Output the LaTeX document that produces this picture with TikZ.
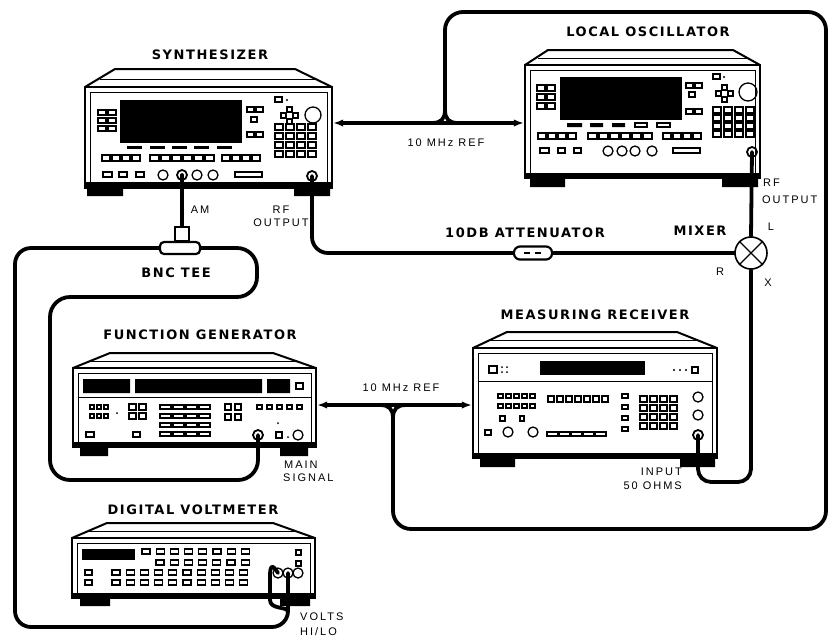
\documentclass[tikz,border=0pt]{standalone}
\usepackage{fontspec}
\usetikzlibrary{arrows.meta,backgrounds}
\newfontfamily\titlefam{DejaVu Sans}[LetterSpace=12]
\newfontfamily\lblfam{Liberation Sans}[LetterSpace=18]
\newcommand\titlefont{\titlefam\bfseries\fontsize{13}{14}\selectfont}
\newcommand\lblfont{\lblfam\fontsize{11}{12}\selectfont}
\newcommand\btns[8]{%
  \foreach \ii in {1,...,#3}{\foreach \jj in {1,...,#4}{%
    \draw[btn] ({#1+(\ii-1)*(#5)},{#2+(\jj-1)*(#6)}) rectangle ++(#7,#8);}}}
\tikzset{
  cable/.style={line width=3.8pt, line cap=round, line join=round, rounded corners=16pt},
  reflink/.style={line width=3.6pt, {Latex[length=10pt,width=7.5pt]}-{Latex[length=10pt,width=7.5pt]}},
  lid/.style={line width=2pt, line join=round},
  panelbox/.style={draw, line width=2.4pt, inner sep=0pt},
  innerln/.style={line width=1pt},
  btn/.style={draw, line width=1.1pt},
  knobc/.style={line width=1.3pt},
  jack/.style={circle, draw, line width=1.8pt, minimum size=10pt, inner sep=0pt},
  title/.style={font=\titlefont, inner sep=0pt},
  lbl/.style={font=\lblfont, inner sep=0pt},
  mixer/.style={circle, draw, line width=1.6pt, fill=white, minimum size=32pt, inner sep=0pt},
  attbox/.style={draw, line width=2.2pt, fill=white, rounded corners=6pt, minimum width=38pt, minimum height=13pt, inner sep=0pt},
  teebox/.style={draw, line width=2.2pt, fill=white, inner sep=0pt}
}
\begin{document}
\begin{tikzpicture}[x=1pt,y=-1pt]
\useasboundingbox (0,0) rectangle (832,641);

% ---------- SYNTHESIZER ----------
\draw[lid] (85,87) -- (115,69) -- (295,69) -- (332,87);
\draw[innerln] (100,79) -- (317,79);
\node[panelbox, minimum width=247pt, minimum height=101pt] (synth) at (208.5,137.5) {};
\draw[innerln] (90,92) rectangle (327,182);
\fill (86,182) rectangle (331,188);
\fill (87,188) rectangle (123,196) (294,188) rectangle (330,196);
\fill (120,100) rectangle (242,143);
\btns{98}{110}{2}{3}{10}{8}{8}{5}
\draw[btn] (247,107) rectangle ++(7,5) (256,107) rectangle ++(7,5) (251,117) rectangle ++(6,5) (247,132) rectangle ++(7,5) (256,132) rectangle ++(7,5);
\foreach \x in {127,150,172,194,217} \fill (\x,146) rectangle ++(15,3);
\btns{102}{155}{4}{1}{10}{0}{8}{6}
\btns{150}{155}{6}{1}{11}{0}{9}{6}
\btns{222}{155}{4}{1}{10}{0}{8}{6}
\draw[btn] (103,172) rectangle ++(9,5) (119,172) rectangle ++(8,5) (136,172) rectangle ++(8,5) (235,172) rectangle (262,177);
\foreach \x in {163,197,213} \draw[knobc] (\x,175) circle[radius=5];
\draw[btn] (275,97) rectangle ++(7,5);
\fill (287,100) circle[radius=1.2];
\draw[btn] (287,107) rectangle ++(5,5) (281,113) rectangle ++(5,5) (293,113) rectangle ++(5,5) (287,119) rectangle ++(5,5);
\draw[knobc] (313,115) circle[radius=8];
\btns{275}{124}{4}{4}{11}{9}{8}{6}
\node[jack] (synam) at (182,175) {};
\node[jack] (synrf) at (312,176) {};

% ---------- LOCAL OSCILLATOR ----------
\draw[lid] (525,65) -- (548,50) -- (733,50) -- (760,65);
\draw[innerln] (538,58) -- (747,58);
\node[panelbox, minimum width=235pt, minimum height=113pt] (lo) at (642.5,121.5) {};
\draw[innerln] (530,70) rectangle (755,173);
\fill (526,173) rectangle (759,178);
\fill (530,178) rectangle (565,187) (722,178) rectangle (758,187);
\fill (560,77) rectangle (682,120);
\btns{537}{85}{2}{3}{10}{9}{8}{6}
\draw[btn] (686,83) rectangle ++(7,5) (695,83) rectangle ++(7,5) (689,92) rectangle ++(6,5) (686,109) rectangle ++(7,5) (695,109) rectangle ++(7,5);
\fill (567,123) rectangle ++(15,4) (590,123) rectangle ++(13,4) (612,123) rectangle ++(13,4);
\draw[btn] (635,123) rectangle ++(12,4) (657,123) rectangle ++(13,4);
\btns{538}{133}{4}{1}{10}{0}{8}{6}
\btns{588}{133}{6}{1}{11}{0}{9}{6}
\btns{663}{133}{4}{1}{10}{0}{8}{6}
\draw[btn] (540,148) rectangle ++(9,5) (558,148) rectangle ++(7,5) (574,148) rectangle ++(7,5) (673,148) rectangle (700,153);
\foreach \x in {608,622,635,652} \draw[knobc] (\x,151) circle[radius=5];
\draw[btn] (713,74) rectangle ++(7,5);
\fill (724,77) circle[radius=1.2];
\draw[btn] (722,85) rectangle ++(5,5) (716,91) rectangle ++(5,5) (728,91) rectangle ++(5,5) (722,97) rectangle ++(5,5);
\draw[knobc] (748,92) circle[radius=9];
\btns{713}{107}{4}{4}{11}{8}{8}{6}
\node[jack] (lorf) at (752,152) {};

% ---------- FUNCTION GENERATOR ----------
\draw[lid] (73,368) -- (110,353) -- (273,353) -- (316,368);
\draw[innerln] (88,361) -- (299,361);
\node[panelbox, minimum width=243pt, minimum height=79pt] (fg) at (194.5,407.5) {};
\draw[innerln] (78,373) rectangle (311,442);
\fill (74,442) rectangle (315,447);
\fill (80,447) rectangle (108,456) (280,447) rectangle (308,456);
\fill (83,379) rectangle (130,393) (135,379) rectangle (262,393) (267,379) rectangle (290,393);
\draw[btn] (296,383) rectangle ++(7,6);
\draw[innerln] (78,397) -- (311,397);
\btns{90}{405}{3}{2}{7}{9}{4}{4}
\fill (117,413) circle[radius=1];
\btns{129}{404}{2}{2}{10}{9}{7}{6}
\btns{160}{405}{4}{4}{13}{9}{11}{4}
\btns{225}{404}{2}{2}{10}{10}{6}{6}
\btns{257}{405}{5}{1}{10}{0}{5}{4}
\fill (278,423) circle[radius=1];
\draw[btn] (86,432) rectangle ++(8,5) (133,432) rectangle ++(7,5) (276,432) rectangle ++(6,6);
\fill (288,437) circle[radius=1];
\draw[knobc] (298,435) circle[radius=5];
\node[jack] (fgout) at (258,435) {};

% ---------- MEASURING RECEIVER ----------
\draw[lid] (473,348) -- (507,332) -- (677,332) -- (717,348);
\draw[innerln] (490,340) -- (700,340);
\node[panelbox, minimum width=244pt, minimum height=110pt] (mr) at (595,403) {};
\draw[innerln] (478,353) rectangle (712,453);
\fill (474,453) rectangle (716,458);
\fill (480,458) rectangle (515,467) (680,458) rectangle (715,467);
\draw[innerln] (478,381) -- (712,381);
\fill (540,361) rectangle (645,375);
\draw[btn] (489,366) rectangle ++(8,7);
\foreach \x in {502,507} \foreach \y in {367,372} \fill (\x,\y) circle[radius=1];
\foreach \x in {674,680,686} \fill (\x,370) circle[radius=1.2];
\draw[btn] (692,367) rectangle ++(6,6);
\btns{498}{394}{5}{2}{8}{10}{5}{4}
\btns{548}{396}{7}{1}{9}{0}{6}{6}
\draw[btn] (500,416) rectangle ++(5,5) (520,416) rectangle ++(4,5) (485,430) rectangle ++(6,5);
\foreach \x in {508,533} \draw[knobc] (\x,432) circle[radius=5];
\btns{547}{432}{5}{1}{12}{0}{11}{4}
\btns{622}{394}{1}{4}{0}{11}{6}{4}
\btns{640}{396}{4}{4}{10}{9}{7}{6}
\foreach \y in {397,415} \draw[knobc] (698,\y) circle[radius=5];
\node[jack] (mrin) at (698,435) {};

% ---------- DIGITAL VOLTMETER ----------
\draw[lid] (72,538) -- (107,523) -- (273,523) -- (315,538);
\draw[innerln] (88,531) -- (298,531);
\node[panelbox, minimum width=243pt, minimum height=60pt] (dvm) at (193.5,568) {};
\draw[innerln] (77,543) rectangle (310,593);
\fill (73,593) rectangle (314,598);
\fill (80,598) rectangle (110,606) (280,598) rectangle (310,606);
\fill (82,549) rectangle (135,560);
\btns{142}{549}{8}{1}{14.2}{0}{8}{5}
\btns{156}{560}{7}{1}{14.2}{0}{8}{5}
\btns{112}{570}{10}{2}{14.2}{10}{8}{5}
\btns{85}{570}{1}{2}{0}{10}{7}{5}
\btns{296}{550}{1}{2}{0}{11}{5}{5}
\node[jack, line width=1.3pt] (dvmhi) at (278,573) {};
\node[jack, line width=1.3pt] (dvmlo) at (288,573) {};
\node[jack, line width=1.3pt] (dvmgd) at (298,573) {};

% ---------- small parts ----------
\node[mixer] (mix) at (751,253) {};
\draw[line width=1.3pt] (mix.north west) -- (mix.south east) (mix.north east) -- (mix.south west);
\node[attbox] (att) at (533,253) {};
\draw[line width=1.6pt] (524,253) -- (530,253) (535,253) -- (541,253);
\node[teebox, minimum width=14pt, minimum height=14pt] (teetop) at (182,234) {};
\node[teebox, rounded corners=4pt, minimum width=40pt, minimum height=12pt] (tee) at (180,248) {};

% ---------- titles ----------
\node[title] (tsynth) at (210,55) {SYNTHESIZER};
\node[title] (tlo) at (648,32) {LOCAL OSCILLATOR};
\node[title] (tatt) at (525,233) {10DB ATTENUATOR};
\node[title] (tmix) at (700,231) {MIXER};
\node[title] (ttee) at (176,273) {BNC TEE};
\node[title] (tmr) at (595,315) {MEASURING RECEIVER};
\node[title] (tfg) at (200,335) {FUNCTION GENERATOR};
\node[title] (tdvm) at (193,510) {DIGITAL VOLTMETER};

% ---------- labels ----------
\node[lbl] (lam) at (200,210) {AM};
\node[lbl] (lsrf1) at (281,210) {RF};
\node[lbl] (lsrf2) at (281,223) {OUTPUT};
\node[lbl, anchor=west] (llrf1) at (763,183) {RF};
\node[lbl, anchor=west] (llrf2) at (762,200) {OUTPUT};
\node[lbl] (lL) at (771,227) {L};
\node[lbl] (lR) at (720,272) {R};
\node[lbl] (lX) at (768,283) {X};
\node[lbl] (lref1) at (446,143) {10 MHz REF};
\node[lbl] (lref2) at (401,388) {10 MHz REF};
\node[lbl, anchor=east] (lin1) at (682,472) {INPUT};
\node[lbl, anchor=east] (lin2) at (682,486) {50 OHMS};
\node[lbl, anchor=west] (lmain1) at (284,465) {MAIN};
\node[lbl, anchor=west] (lmain2) at (283,478) {SIGNAL};
\node[lbl, anchor=west] (lv1) at (300,617) {VOLTS};
\node[lbl, anchor=west] (lv2) at (300,632) {HI/LO};

% ---------- coordinates ----------
\coordinate (refy1) at (0,123);
\coordinate (refy2) at (0,405);
\coordinate (j1) at (445,110);
\coordinate (j1l) at (432,123);
\coordinate (j1r) at (458,123);
\coordinate (j2) at (393,418);
\coordinate (j2l) at (380,405);
\coordinate (j2r) at (406,405);

% ---------- cables ----------
\begin{scope}[on background layer]
\draw[cable] (synrf.center) |- (att.west);
\draw[cable] (att.east) -- (mix.west);
\draw[cable] (lorf.center) -- (mix.north);
\draw[cable, rounded corners=13pt] (mix.south) -- (751,482) -- (698,482) -- (mrin.center);
\draw[cable] (synam.center) -- (teetop.north);
\draw[cable] (tee.west) -- (15,248) -- (15,627) -- (288,627) -- (dvmlo.center);
\draw[cable, sharp corners] (dvmhi.center) .. controls (272,563) and (270,566) .. (270,576) -- (270,600) .. controls (270,610) and (288,606) .. (288,612);
\draw[cable, rounded corners=20pt] (tee.east) -- (257,248) -- (257,297) -- (50,297) -- (50,480) -- (258,480) -- (fgout.center);
\draw[reflink] (synth.east |- refy1) -- (lo.west |- refy1);
\draw[cable, sharp corners] (j1) .. controls (445,119) and (441,123) .. (j1l);
\draw[cable, sharp corners] (j1) .. controls (445,119) and (449,123) .. (j1r);
\draw[cable, rounded corners=18pt] (j1) -- (445,12) -- (826,12) -- (826,529) -- (393,529) -- (j2);
\draw[cable, sharp corners] (j2) .. controls (393,409) and (389,405) .. (j2l);
\draw[cable, sharp corners] (j2) .. controls (393,409) and (397,405) .. (j2r);
\draw[reflink] (fg.east |- refy2) -- (mr.west |- refy2);
\end{scope}
\end{tikzpicture}
\end{document}
